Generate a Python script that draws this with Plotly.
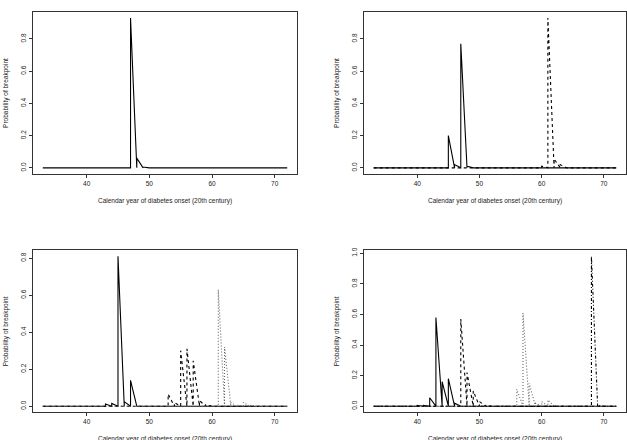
import plotly.graph_objects as go

# ---- data ----
year_start = 33
year_end = 72
years = list(range(year_start, year_end + 1))

# panel 1
p1_solid_years = [47, 48, 49]
p1_solid_probs = [0.93, 0.06, 0.005]

# panel 2
p2_solid_years = [45, 46, 47, 48]
p2_solid_probs = [0.20, 0.02, 0.77, 0.01]
p2_dash_years = [60, 61, 62, 63]
p2_dash_probs = [0.01, 0.93, 0.055, 0.02]

# panel 3
p3_solid_years = [43, 44, 45, 46, 47]
p3_solid_probs = [0.012, 0.015, 0.81, 0.025, 0.14]
p3_dash_years = [53, 54, 55, 56, 57, 58, 59]
p3_dash_probs = [0.065, 0.02, 0.30, 0.31, 0.245, 0.03, 0.008]
p3_dot_years = [61, 62, 63, 64, 65, 66]
p3_dot_probs = [0.63, 0.32, 0.02, 0.005, 0.02, 0.005]

# panel 4
p4_solid_years = [40, 41, 42, 43, 44, 45, 46]
p4_solid_probs = [0.005, 0.005, 0.055, 0.58, 0.16, 0.18, 0.02]
p4_dash_years = [47, 48, 49, 50, 51]
p4_dash_probs = [0.57, 0.22, 0.10, 0.03, 0.005]
p4_dot_years = [56, 57, 58, 59, 60, 61, 62]
p4_dot_probs = [0.11, 0.61, 0.15, 0.02, 0.03, 0.04, 0.005]
p4_dashdot_years = [68, 69]
p4_dashdot_probs = [0.98, 0.005]

x_ticks = [40, 50, 60, 70]
x_title = "Calendar year of diabetes onset (20th century)"
y_title = "Probability of breakpoint"

W, H = 627, 440

DASH = "3px,3px"
DOT = "1px,2px"
DASHDOT = "1px,2px,3px,2px"


def sawtooth(nz_years, nz_probs):
    lookup = dict(zip(nz_years, nz_probs))
    xs, ys = [], []
    for y in years:
        xs += [y, y]
        ys += [0.0, lookup.get(y, 0.0)]
    return xs, ys


panels = [
    dict(box=(33, 297, 9, 172), ymax=0.93, yticks=[0, 0.2, 0.4, 0.6, 0.8],
         series=[(p1_solid_years, p1_solid_probs, "solid", "black")]),
    dict(box=(364, 626, 9, 172), ymax=0.93, yticks=[0, 0.2, 0.4, 0.6, 0.8],
         series=[(p2_solid_years, p2_solid_probs, "solid", "black"),
                 (p2_dash_years, p2_dash_probs, DASH, "black")]),
    dict(box=(33, 297, 249, 412), ymax=0.81, yticks=[0, 0.2, 0.4, 0.6, 0.8],
         series=[(p3_solid_years, p3_solid_probs, "solid", "black"),
                 (p3_dash_years, p3_dash_probs, DASH, "black"),
                 (p3_dot_years, p3_dot_probs, DOT, "#666666")]),
    dict(box=(364, 626, 249, 412), ymax=0.98, yticks=[0, 0.2, 0.4, 0.6, 0.8, 1.0],
         series=[(p4_solid_years, p4_solid_probs, "solid", "black"),
                 (p4_dash_years, p4_dash_probs, DASH, "black"),
                 (p4_dot_years, p4_dot_probs, DOT, "#666666"),
                 (p4_dashdot_years, p4_dashdot_probs, DASHDOT, "black")]),
]

fig = go.Figure()
font_tick = dict(family="Liberation Sans, Arial, sans-serif", size=6.5, color="#222222")
annotations = []
layout = {}
xr = (year_end - year_start) * 0.04
for i, p in enumerate(panels, start=1):
    l, r, t, b = p["box"]
    xa = "xaxis" if i == 1 else f"xaxis{i}"
    ya = "yaxis" if i == 1 else f"yaxis{i}"
    xref = "x" if i == 1 else f"x{i}"
    yref = "y" if i == 1 else f"y{i}"
    for yrs, prs, dash, col in p["series"]:
        xs, ys = sawtooth(yrs, prs)
        fig.add_trace(go.Scatter(x=xs, y=ys, mode="lines", xaxis=xref, yaxis=yref,
                                 line=dict(color=col, width=1.1, dash=dash),
                                 showlegend=False, hoverinfo="skip"))
    yr = p["ymax"] * 0.04
    common = dict(showline=True, linecolor="#333333", linewidth=1, mirror=True,
                  ticks="outside", ticklen=3, tickcolor="#333333", tickwidth=1,
                  showgrid=False, zeroline=False, tickfont=font_tick)
    layout[xa] = dict(domain=[l / W, r / W], range=[year_start - xr, year_end + xr],
                      tickvals=x_ticks, anchor=yref, **common)
    layout[ya] = dict(domain=[1 - b / H, 1 - t / H], range=[-yr, p["ymax"] + yr],
                      tickvals=p["yticks"], ticktext=[f"{v:.1f}" for v in p["yticks"]],
                      tickangle=-90, anchor=xref, **common)
    annotations.append(dict(text=x_title, xref="paper", yref="paper",
                            x=(l + r) / 2 / W, y=1 - (b + 27) / H,
                            showarrow=False, font=font_tick, xanchor="center", yanchor="middle"))
    annotations.append(dict(text=y_title, xref="paper", yref="paper",
                            x=(l - 27) / W, y=1 - (t + b) / 2 / H, textangle=-90,
                            showarrow=False, font=font_tick, xanchor="center", yanchor="middle"))

fig.update_layout(width=W, height=H, margin=dict(l=0, r=0, t=0, b=0),
                  paper_bgcolor="white", plot_bgcolor="white",
                  annotations=annotations, **layout)
fig.write_html("out.html")
